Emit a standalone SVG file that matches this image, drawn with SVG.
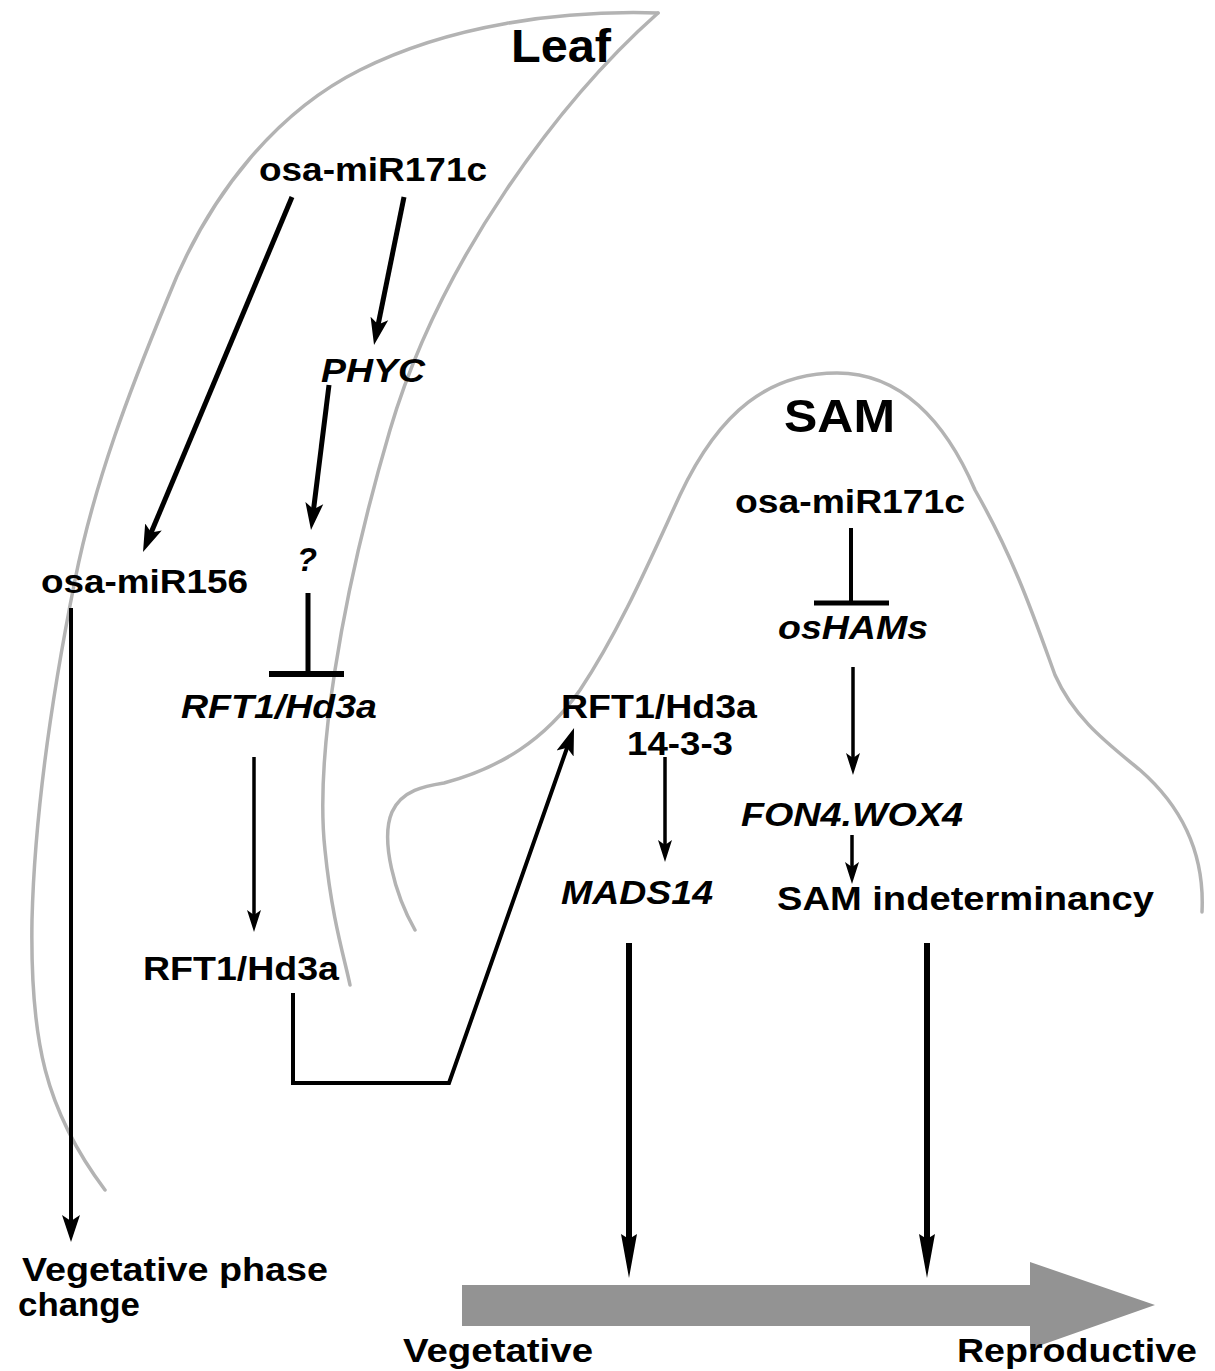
<svg xmlns="http://www.w3.org/2000/svg" width="1215" height="1371" viewBox="0 0 1215 1371">
<style>
  .outline{fill:none;stroke:#b3b3b3;stroke-width:3.5;stroke-linecap:round;stroke-linejoin:round}
  .t{font-family:"Liberation Sans",Arial,sans-serif;font-weight:bold;font-size:34px;fill:#000}
  .i{font-style:italic}
  .big{font-size:47px}
  .ln{fill:none;stroke:#000;stroke-linecap:butt;stroke-linejoin:miter}
  .w5{stroke-width:5}
  .w4{stroke-width:4}
  .w35{stroke-width:3.5}
  .w6{stroke-width:6}
</style>
<defs>
  <marker id="ah" markerUnits="userSpaceOnUse" markerWidth="28" markerHeight="20" refX="10" refY="10" orient="auto">
    <path d="M0,1 L27,10 L0,19 L6,10 z" fill="#000"/>
  </marker>
  <marker id="ahs" markerUnits="userSpaceOnUse" markerWidth="23" markerHeight="16" refX="8" refY="8" orient="auto">
    <path d="M0,1 L22,8 L0,15 L5,8 z" fill="#000"/>
  </marker>
  <marker id="ahl" markerUnits="userSpaceOnUse" markerWidth="45" markerHeight="16" refX="14" refY="8" orient="auto">
    <path d="M0,0 L44,8 L0,16 L5,8 z" fill="#000"/>
  </marker>
</defs>
<rect width="1215" height="1371" fill="#fff"/>

<g id="leaf-outline">
  <path class="outline" d="M658,13 C560,10 450,25 360,70 C280,110 210,190 167,300 C130,390 95,480 75,580 C55,680 35,800 32,920 C30,1040 45,1110 105,1190"/>
  <path class="outline" d="M658,13 C560,100 440,260 390,430 C340,600 315,760 325,850 C332,920 345,960 350,985"/>
</g>
<g id="sam-outline">
  <path class="outline" d="M415,930 C395,895 380,840 392,812 C402,790 425,786 444,783 C500,768 545,740 580,690 C620,630 650,560 680,495 C720,410 770,373 837,373 C900,373 945,420 975,490 C1015,560 1035,620 1055,675 C1075,720 1110,745 1140,770 C1180,805 1205,850 1202,912"/>
</g>

<g id="phase-arrow">
  <polygon points="462,1285 1030,1285 1030,1262 1155,1305 1030,1349 1030,1326 462,1326" fill="#939393"/>
</g>

<g id="connectors">
  <line class="ln w5" x1="292" y1="197" x2="149.6" y2="536.3" marker-end="url(#ah)"/>
  <line class="ln w5" x1="404" y1="197" x2="377.4" y2="328.3" marker-end="url(#ah)"/>
  <line class="ln w5" x1="329" y1="385" x2="313.1" y2="513.1" marker-end="url(#ah)"/>
  <line class="ln w4" x1="71" y1="608" x2="71" y2="1225" marker-end="url(#ah)"/>
  <line class="ln w5" x1="308" y1="593" x2="308" y2="674"/>
  <line class="ln w6" x1="269" y1="674" x2="344" y2="674"/>
  <line class="ln w35" x1="254" y1="757" x2="254" y2="918" marker-end="url(#ahs)"/>
  <polyline class="ln w4" points="293,993 293,1083 449,1083 568.4,744" marker-end="url(#ah)"/>
  <line class="ln w4" x1="851" y1="528" x2="851" y2="603"/>
  <line class="ln w5" x1="814" y1="603" x2="889" y2="603"/>
  <line class="ln w35" x1="853" y1="667" x2="853" y2="761" marker-end="url(#ahs)"/>
  <line class="ln w35" x1="852" y1="835" x2="852" y2="870" marker-end="url(#ahs)"/>
  <line class="ln w35" x1="665" y1="757" x2="665" y2="848" marker-end="url(#ahs)"/>
  <line class="ln w6" x1="629" y1="943" x2="629" y2="1248" marker-end="url(#ahl)"/>
  <line class="ln w6" x1="927" y1="943" x2="927" y2="1248" marker-end="url(#ahl)"/>
</g>

<g id="label-leaf"><text class="t big" x="511" y="62" textLength="100" lengthAdjust="spacingAndGlyphs">Leaf</text></g>
<g id="node-leaf-mir171c"><text class="t" x="259" y="181" textLength="228" lengthAdjust="spacingAndGlyphs">osa-miR171c</text></g>
<g id="node-phyc"><text class="t i" x="321" y="382" textLength="104" lengthAdjust="spacingAndGlyphs">PHYC</text></g>
<g id="node-mir156"><text class="t" x="41" y="593" textLength="207" lengthAdjust="spacingAndGlyphs">osa-miR156</text></g>
<g id="node-q"><text class="t i" x="297" y="571" textLength="20" lengthAdjust="spacingAndGlyphs">?</text></g>
<g id="node-rft-gene"><text class="t i" x="181" y="718" textLength="196" lengthAdjust="spacingAndGlyphs">RFT1/Hd3a</text></g>
<g id="node-rft-leaf"><text class="t" x="143" y="980" textLength="196" lengthAdjust="spacingAndGlyphs">RFT1/Hd3a</text></g>
<g id="node-vpc"><text class="t" x="22" y="1281" textLength="306" lengthAdjust="spacingAndGlyphs">Vegetative phase</text><text class="t" x="18" y="1316" textLength="122" lengthAdjust="spacingAndGlyphs">change</text></g>

<g id="label-sam"><text class="t big" x="784" y="432" textLength="111" lengthAdjust="spacingAndGlyphs">SAM</text></g>
<g id="node-sam-mir171c"><text class="t" x="735" y="513" textLength="230" lengthAdjust="spacingAndGlyphs">osa-miR171c</text></g>
<g id="node-oshams"><text class="t i" x="778" y="639" textLength="150" lengthAdjust="spacingAndGlyphs">osHAMs</text></g>
<g id="node-rft-complex"><text class="t" x="561" y="718" textLength="196" lengthAdjust="spacingAndGlyphs">RFT1/Hd3a</text><text class="t" x="627" y="755" textLength="106" lengthAdjust="spacingAndGlyphs">14-3-3</text></g>
<g id="node-fon4"><text class="t i" x="741" y="826" textLength="222" lengthAdjust="spacingAndGlyphs">FON4.WOX4</text></g>
<g id="node-mads14"><text class="t i" x="561" y="904" textLength="152" lengthAdjust="spacingAndGlyphs">MADS14</text></g>
<g id="node-sam-indet"><text class="t" x="777" y="910" textLength="377" lengthAdjust="spacingAndGlyphs">SAM indeterminancy</text></g>
<g id="label-vegetative"><text class="t" x="403" y="1362" textLength="190" lengthAdjust="spacingAndGlyphs">Vegetative</text></g>
<g id="label-reproductive"><text class="t" x="957" y="1362" textLength="240" lengthAdjust="spacingAndGlyphs">Reproductive</text></g>
</svg>
